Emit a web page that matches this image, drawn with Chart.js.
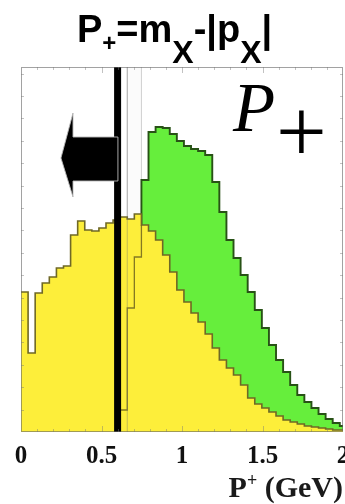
<!DOCTYPE html>
<html>
<head>
<meta charset="utf-8">
<script src="https://cdn.jsdelivr.net/npm/chart.js@4.4.1/dist/chart.umd.min.js"></script>
<style>
  html, body { margin: 0; padding: 0; background: #fff; overflow: hidden; }
  canvas { display: block; }
</style>
</head>
<body>
<canvas id="c" width="345" height="504"></canvas>
<script>
// P+ histograms: 50 bins over 0-2.2 GeV, axis shown up to 2 GeV
const binEdges = [0, 0.044, 0.088, 0.132, 0.176, 0.22, 0.264, 0.308, 0.352, 0.396,
  0.44, 0.484, 0.528, 0.572, 0.616, 0.66, 0.704, 0.748, 0.792, 0.836,
  0.88, 0.924, 0.968, 1.012, 1.056, 1.1, 1.144, 1.188, 1.232, 1.276,
  1.32, 1.364, 1.408, 1.452, 1.496, 1.54, 1.584, 1.628, 1.672, 1.716,
  1.76, 1.804, 1.848, 1.892, 1.936, 1.98, 2.024];

// yellow distribution (arbitrary units)
const yellowCounts = [140, 79, 139, 149, 155, 164, 166, 197, 211, 202,
  201, 204, 209, 212, 215, 213, 218, 207, 201, 192,
  177, 160, 142, 130, 119, 110, 98, 84, 72, 64,
  57, 47, 34, 28, 24, 20, 16, 12, 10, 8,
  6, 5, 4, 3, 2, 2];

// green distribution (arbitrary units)
const greenCounts = [0, 0, 0, 0, 0, 0, 0, 0, 0, 0,
  0, 0, 0, 0, 0, 0, 0, 252, 300, 305,
  304, 298, 291, 286, 283, 281, 277, 250, 220, 192,
  174, 157, 140, 122, 104, 87, 72, 60, 47, 37,
  30, 24, 18, 13, 9, 6];

// rising edge of the distribution just above the cut
const innerEdges = [0.616, 0.66, 0.704, 0.748];
const innerCounts = [22, 124, 175, 207];

// pale band next to the cut
const bandX = [0.66, 0.66, 0.748, 0.748];
const bandY = [0, 400, 400, 0];

// cut value and the arrow selecting P+ below it
const cutValue = 0.60;
const arrowX = [0.248, 0.323, 0.323, 0.602, 0.602, 0.323, 0.323];
const arrowY = [274, 319, 295, 295, 251, 251, 235];

const xTickValues = [0, 0.5, 1, 1.5, 2];
const yTop = 365;

function histPoints(edges, counts) {
  const pts = counts.map((c, i) => ({ x: edges[i], y: c }));
  pts.push({ x: edges[counts.length], y: counts[counts.length - 1] });
  return pts;
}

const decor = {
  id: 'decor',
  beforeDraw(chart) {
    const ctx = chart.ctx;
    ctx.save();
    ctx.fillStyle = '#fff';
    ctx.fillRect(0, 0, chart.width, chart.height);
    ctx.restore();
  },
  afterDatasetsDraw(chart) {
    const { ctx, chartArea: a, scales: { x, y } } = chart;
    ctx.save();
    // arrow
    ctx.beginPath();
    arrowX.forEach((v, i) => {
      const px = x.getPixelForValue(v), py = y.getPixelForValue(arrowY[i]);
      if (i) ctx.lineTo(px, py); else ctx.moveTo(px, py);
    });
    ctx.closePath();
    ctx.fillStyle = '#000';
    ctx.fill();
    ctx.strokeStyle = 'rgba(185,185,185,0.9)';
    ctx.lineWidth = 1;
    ctx.stroke();

    // frame
    ctx.strokeStyle = 'rgba(100,100,100,0.6)';
    ctx.lineWidth = 1;
    ctx.strokeRect(a.left + 0.5, a.top + 0.5, a.width - 1, a.height - 1);

    // small tick marks on the frame
    ctx.strokeStyle = 'rgba(120,120,120,0.45)';
    ctx.beginPath();
    for (let v = 0.1; v < 2; v += 0.1) {
      const px = Math.round(x.getPixelForValue(v)) + 0.5;
      const len = Math.abs(v * 2 - Math.round(v * 2)) < 1e-6 ? 6 : 3;
      ctx.moveTo(px, a.top); ctx.lineTo(px, a.top + len);
      ctx.moveTo(px, a.bottom); ctx.lineTo(px, a.bottom - len);
    }
    for (let v = 22.4; v < yTop; v += 22.4) {
      const py = Math.round(y.getPixelForValue(v)) + 0.5;
      ctx.moveTo(a.left, py); ctx.lineTo(a.left + 3, py);
      ctx.moveTo(a.right, py); ctx.lineTo(a.right - 3, py);
    }
    ctx.stroke();

    // P_+ label in the corner
    ctx.fillStyle = '#000';
    ctx.textBaseline = 'alphabetic';
    ctx.textAlign = 'left';
    ctx.font = 'italic 69px "Liberation Serif", "Times New Roman", serif';
    let m = ctx.measureText('P');
    ctx.fillText('P', 232 + m.actualBoundingBoxLeft, 131);
    ctx.font = '90px "Liberation Serif", "Times New Roman", serif';
    m = ctx.measureText('+');
    const pw = m.actualBoundingBoxLeft + m.actualBoundingBoxRight;
    const ph = m.actualBoundingBoxAscent + m.actualBoundingBoxDescent;
    ctx.fillText('+', 301.5 - pw / 2 + m.actualBoundingBoxLeft, 131.5 + ph / 2 - m.actualBoundingBoxDescent);
    ctx.restore();
  },
  afterDraw(chart) {
    const ctx = chart.ctx;
    ctx.save();
    ctx.fillStyle = '#000';
    ctx.textAlign = 'left';
    ctx.textBaseline = 'alphabetic';
    const sans = '"Liberation Sans", Arial, sans-serif';
    const titleRuns = [
      { t: 'P', f: 'bold 38px ' + sans, y: 42 },
      { t: '+', f: 'bold 24px ' + sans, y: 51 },
      { t: '=m', f: 'bold 38px ' + sans, y: 42 },
      { t: 'X', f: 'bold 32px ' + sans, y: 63 },
      { t: '-|p', f: 'bold 38px ' + sans, y: 42 },
      { t: 'X', f: 'bold 32px ' + sans, y: 63 },
      { t: '|', f: 'bold 38px ' + sans, y: 42 }
    ];
    let cx = 77;
    for (const r of titleRuns) {
      ctx.font = r.f;
      ctx.fillText(r.t, cx, r.y);
      cx += ctx.measureText(r.t).width;
    }

    // axis title P^+ (GeV), right aligned with the frame
    const serif = '"Liberation Serif", "Times New Roman", serif';
    const axisRuns = [
      { t: 'P', f: 'bold 30px ' + serif, y: 497 },
      { t: '+', f: 'bold 18px ' + serif, y: 486 },
      { t: ' (GeV)', f: 'bold 30px ' + serif, y: 497 }
    ];
    let total = 0;
    for (const r of axisRuns) { ctx.font = r.f; total += ctx.measureText(r.t).width; }
    cx = chart.chartArea.right - total;
    ctx.fillStyle = '#1a1a1a';
    for (const r of axisRuns) {
      ctx.font = r.f;
      ctx.fillText(r.t, cx, r.y);
      cx += ctx.measureText(r.t).width;
    }
    ctx.restore();
  }
};

new Chart(document.getElementById('c'), {
  type: 'line',
  data: {
    datasets: [
      {
        label: 'cut',
        data: [{ x: cutValue, y: 0 }, { x: cutValue, y: yTop }],
        borderColor: '#000',
        borderWidth: 7,
        borderCapStyle: 'butt',
        pointRadius: 0,
        fill: false
      },
      {
        label: 'band edge',
        data: [{ x: bandX[0], y: 0 }, { x: bandX[1], y: yTop }],
        borderColor: 'rgba(110,110,110,0.4)',
        borderWidth: 1,
        pointRadius: 0,
        fill: false
      },
      {
        label: 'above cut',
        data: innerCounts.map((c, i) => ({ x: innerEdges[i], y: c })),
        stepped: 'before',
        borderColor: 'rgba(110,100,30,0.85)',
        borderWidth: 1.3,
        pointRadius: 0,
        fill: false
      },
      {
        label: 'yellow',
        data: histPoints(binEdges, yellowCounts),
        stepped: 'before',
        borderColor: '#6f6826',
        borderWidth: 1.6,
        backgroundColor: '#fdee3a',
        pointRadius: 0,
        fill: 'origin'
      },
      {
        label: 'green',
        data: histPoints(binEdges, greenCounts),
        stepped: 'before',
        borderColor: '#285216',
        borderWidth: 1.9,
        backgroundColor: '#66ee3c',
        pointRadius: 0,
        fill: 'origin'
      },
      {
        label: 'band',
        data: bandX.map((v, i) => ({ x: v, y: bandY[i] })),
        stepped: 'before',
        borderColor: 'rgba(150,150,150,0.45)',
        borderWidth: 1,
        backgroundColor: 'rgba(0,0,0,0.015)',
        pointRadius: 0,
        fill: 'origin'
      }
    ]
  },
  options: {
    responsive: false,
    animation: false,
    devicePixelRatio: 1,
    layout: { padding: { left: 21, top: 67, right: 2, bottom: 0 } },
    plugins: { legend: { display: false }, tooltip: { enabled: false }, title: { display: false } },
    elements: { line: { tension: 0 } },
    scales: {
      x: {
        type: 'linear',
        min: 0,
        max: 2,
        afterBuildTicks(scale) { scale.ticks = xTickValues.map(v => ({ value: v })); },
        afterFit(scale) { scale.height = 72; scale.paddingLeft = 0; scale.paddingRight = 0; },
        grid: { display: false, drawTicks: false },
        border: { display: false },
        ticks: {
          autoSkip: false,
          maxRotation: 0,
          padding: 10,
          color: '#111',
          font: { family: '"Liberation Serif", "Times New Roman", serif', size: 25, weight: 'bold' },
          callback: v => String(v)
        }
      },
      y: {
        type: 'linear',
        min: 0,
        max: yTop,
        display: false
      }
    }
  },
  plugins: [decor]
});
</script>
</body>
</html>
